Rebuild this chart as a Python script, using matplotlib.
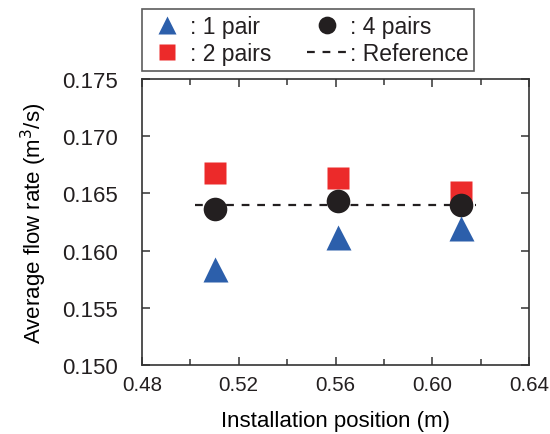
import matplotlib.pyplot as plt
from matplotlib.ticker import MultipleLocator, FormatStrFormatter

# Data
positions = [0.510, 0.561, 0.612]
pair1 = [0.1584, 0.1612, 0.1620]
pair2 = [0.1668, 0.1663, 0.1651]
pair4 = [0.1636, 0.1643, 0.1640]
refX = [0.502, 0.618]
refY = [0.1640, 0.1640]

blue = '#2c5fab'
red = '#ec2a2a'
black = '#231f20'

plt.rcParams['font.family'] = 'Liberation Sans'
plt.rcParams['font.size'] = 16
plt.rcParams['text.color'] = black
plt.rcParams['xtick.color'] = '#333333'
plt.rcParams['ytick.color'] = '#333333'
plt.rcParams['xtick.labelcolor'] = black
plt.rcParams['ytick.labelcolor'] = black

fig = plt.figure(figsize=(5.5, 4.35), dpi=100)
ax = fig.add_axes([0.258, 0.159, 0.704, 0.657])

ax.plot(refX, refY, linestyle=(0, (3.5, 3.5)), color=black, lw=1.6, label=': Reference', zorder=1)
ax.plot(positions, pair2, 's', color=red, ms=16, mec='none', label=': 2 pairs', zorder=2)
ax.plot(positions, pair4, 'o', color=black, ms=17, mec='none', label=': 4 pairs', zorder=3)
ax.plot(positions, pair1, '^', color=blue, ms=18, mec='none', label=': 1 pair', zorder=4)

ax.set_xlim(0.48, 0.64)
ax.set_ylim(0.150, 0.175)
ax.xaxis.set_major_locator(MultipleLocator(0.04))
ax.xaxis.set_minor_locator(MultipleLocator(0.02))
ax.yaxis.set_major_locator(MultipleLocator(0.005))
ax.xaxis.set_major_formatter(FormatStrFormatter('%.2f'))
ax.yaxis.set_major_formatter(FormatStrFormatter('%.3f'))
ax.tick_params(which='both', direction='in', top=True, right=True)
ax.tick_params(axis='y', pad=17, labelsize=16)
ax.tick_params(axis='x', pad=7, labelsize=14.8)
ax.tick_params(which='major', length=6, width=1.1)
ax.tick_params(which='minor', length=4.5, width=1.1)
for s in ax.spines.values():
    s.set_linewidth(1.2)
    s.set_color('#333333')

ax.set_xlabel('Installation position (m)', fontsize=16, labelpad=12)
ax.set_ylabel('Average flow rate (m$^3$/s)', fontsize=16, labelpad=10)

h, l = ax.get_legend_handles_labels()
order = [3, 1, 2, 0]
leg = fig.legend([h[i] for i in order], [l[i] for i in order], ncol=2,
                 loc='lower left', bbox_to_anchor=(0.258, 0.834, 0.604, 0.136),
                 mode='expand', fontsize=16.5, frameon=True, fancybox=False,
                 edgecolor='#333333', markerscale=0.75, handlelength=1.7,
                 handletextpad=0.15, columnspacing=1.0, borderaxespad=0,
                 labelspacing=0.2, borderpad=0.25)
leg.get_frame().set_linewidth(1.2)

fig.savefig('out.png', dpi=100)
